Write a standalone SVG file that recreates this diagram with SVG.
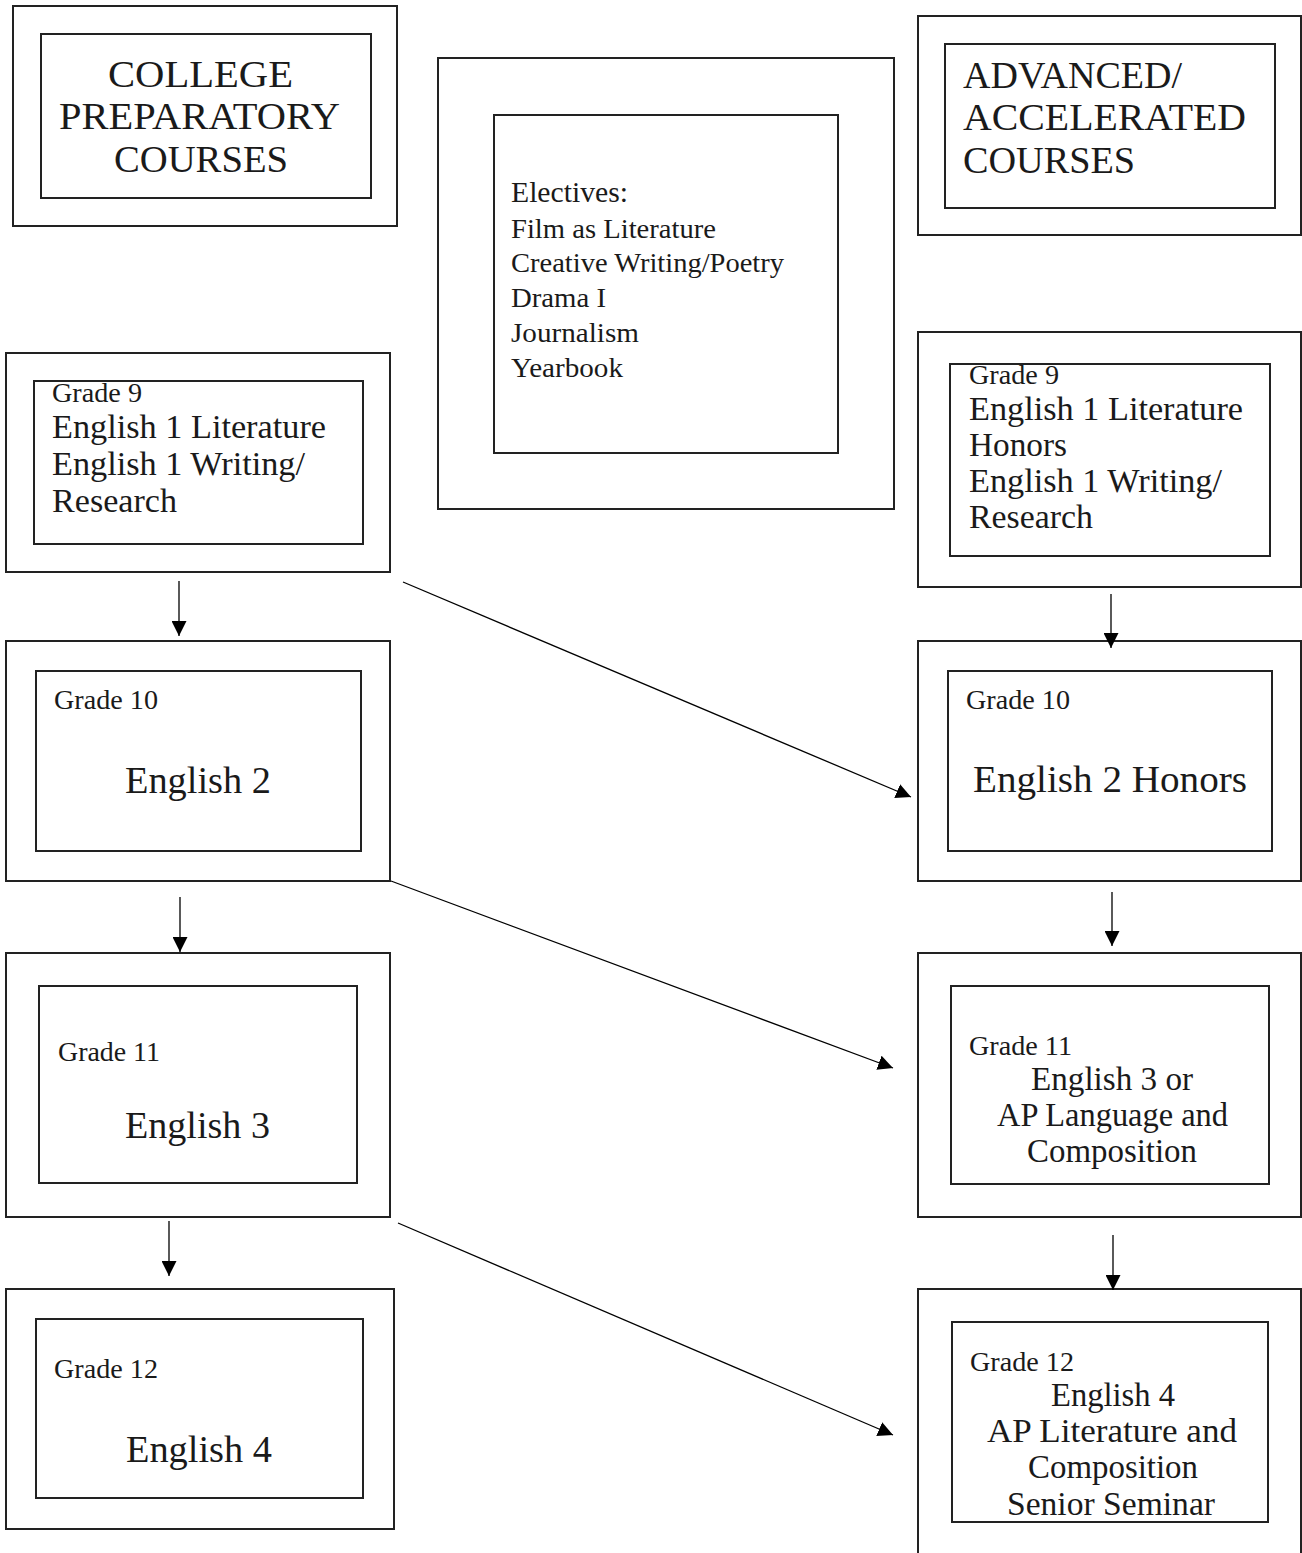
<svg xmlns="http://www.w3.org/2000/svg" width="1302" height="1553" viewBox="0 0 1302 1553">
<defs>
<marker id="ah" markerUnits="userSpaceOnUse" markerWidth="15" markerHeight="15" refX="15" refY="7.5" orient="auto">
<path d="M0,0 L15,7.5 L0,15 z" fill="#000"/>
</marker>
<style>
rect{fill:none;stroke:#222;stroke-width:2}
text{font-family:"Liberation Serif","Times New Roman",serif;fill:#1a1a1a}
.h{font-size:38px}
.el{font-size:29px}
.it{font-size:27px}
.g{font-size:28px}
.m{font-size:33px}
.b{font-size:38px}
.c line{stroke:#000;stroke-width:1.3;marker-end:url(#ah)}
</style>
</defs>
<rect x="0" y="0" width="1302" height="1553" style="fill:#fff;stroke:none"/>
<g id="header-college">
<rect x="13" y="6" width="384" height="220"/>
<rect x="41" y="34" width="330" height="164"/>
<text class="h" x="108" y="87" textLength="185" lengthAdjust="spacingAndGlyphs">COLLEGE</text>
<text class="h" x="59" y="129" textLength="281" lengthAdjust="spacingAndGlyphs">PREPARATORY</text>
<text class="h" x="114" y="172" textLength="174" lengthAdjust="spacingAndGlyphs">COURSES</text>
</g>
<g id="header-advanced">
<rect x="918" y="16" width="383" height="219"/>
<rect x="945" y="44" width="330" height="164"/>
<text class="h" x="963" y="88" textLength="219" lengthAdjust="spacingAndGlyphs">ADVANCED/</text>
<text class="h" x="963" y="130" textLength="283" lengthAdjust="spacingAndGlyphs">ACCELERATED</text>
<text class="h" x="963" y="173" textLength="172" lengthAdjust="spacingAndGlyphs">COURSES</text>
</g>
<g id="electives">
<rect x="438" y="58" width="456" height="451"/>
<rect x="494" y="115" width="344" height="338"/>
<text class="el" x="511" y="202" textLength="117" lengthAdjust="spacingAndGlyphs">Electives:</text>
<text class="it" x="511" y="238" textLength="205" lengthAdjust="spacingAndGlyphs">Film as Literature</text>
<text class="it" x="511" y="272" textLength="273" lengthAdjust="spacingAndGlyphs">Creative Writing/Poetry</text>
<text class="it" x="511" y="307" textLength="95" lengthAdjust="spacingAndGlyphs">Drama I</text>
<text class="it" x="511" y="342" textLength="128" lengthAdjust="spacingAndGlyphs">Journalism</text>
<text class="it" x="511" y="377" textLength="112" lengthAdjust="spacingAndGlyphs">Yearbook</text>
</g>
<g id="cp-grade9">
<rect x="6" y="353" width="384" height="219"/>
<rect x="34" y="381" width="329" height="163"/>
<text class="g" x="52" y="402" textLength="90" lengthAdjust="spacingAndGlyphs">Grade 9</text>
<text class="m" x="52" y="438" textLength="274" lengthAdjust="spacingAndGlyphs">English 1 Literature</text>
<text class="m" x="52" y="475" textLength="253" lengthAdjust="spacingAndGlyphs">English 1 Writing/</text>
<text class="m" x="52" y="512" textLength="125" lengthAdjust="spacingAndGlyphs">Research</text>
</g>
<g id="adv-grade9">
<rect x="918" y="332" width="383" height="255"/>
<rect x="950" y="364" width="320" height="192"/>
<text class="g" x="969" y="384" textLength="90" lengthAdjust="spacingAndGlyphs">Grade 9</text>
<text class="m" x="969" y="420" textLength="274" lengthAdjust="spacingAndGlyphs">English 1 Literature</text>
<text class="m" x="969" y="456" textLength="98" lengthAdjust="spacingAndGlyphs">Honors</text>
<text class="m" x="969" y="492" textLength="253" lengthAdjust="spacingAndGlyphs">English 1 Writing/</text>
<text class="m" x="969" y="528" textLength="124" lengthAdjust="spacingAndGlyphs">Research</text>
</g>
<g id="cp-grade10">
<rect x="6" y="641" width="384" height="240"/>
<rect x="36" y="671" width="325" height="180"/>
<text class="g" x="54" y="709" textLength="104" lengthAdjust="spacingAndGlyphs">Grade 10</text>
<text class="b" x="125" y="793" textLength="146" lengthAdjust="spacingAndGlyphs">English 2</text>
</g>
<g id="adv-grade10">
<rect x="918" y="641" width="383" height="240"/>
<rect x="948" y="671" width="324" height="180"/>
<text class="g" x="966" y="709" textLength="104" lengthAdjust="spacingAndGlyphs">Grade 10</text>
<text class="b" x="973" y="792" textLength="274" lengthAdjust="spacingAndGlyphs">English 2 Honors</text>
</g>
<g id="cp-grade11">
<rect x="6" y="953" width="384" height="264"/>
<rect x="39" y="986" width="318" height="197"/>
<text class="g" x="58" y="1061" textLength="102" lengthAdjust="spacingAndGlyphs">Grade 11</text>
<text class="b" x="125" y="1138" textLength="145" lengthAdjust="spacingAndGlyphs">English 3</text>
</g>
<g id="adv-grade11">
<rect x="918" y="953" width="383" height="264"/>
<rect x="951" y="986" width="318" height="198"/>
<text class="g" x="969" y="1055" textLength="103" lengthAdjust="spacingAndGlyphs">Grade 11</text>
<text class="m" x="1031" y="1090" textLength="162" lengthAdjust="spacingAndGlyphs">English 3 or</text>
<text class="m" x="997" y="1126" textLength="231" lengthAdjust="spacingAndGlyphs">AP Language and</text>
<text class="m" x="1027" y="1162" textLength="170" lengthAdjust="spacingAndGlyphs">Composition</text>
</g>
<g id="cp-grade12">
<rect x="6" y="1289" width="388" height="240"/>
<rect x="36" y="1319" width="327" height="179"/>
<text class="g" x="54" y="1378" textLength="104" lengthAdjust="spacingAndGlyphs">Grade 12</text>
<text class="b" x="126" y="1462" textLength="146" lengthAdjust="spacingAndGlyphs">English 4</text>
</g>
<g id="adv-grade12">
<rect x="918" y="1289" width="383" height="300"/>
<rect x="952" y="1322" width="316" height="200"/>
<text class="g" x="970" y="1371" textLength="104" lengthAdjust="spacingAndGlyphs">Grade 12</text>
<text class="m" x="1051" y="1406" textLength="124" lengthAdjust="spacingAndGlyphs">English 4</text>
<text class="m" x="987" y="1442" textLength="250" lengthAdjust="spacingAndGlyphs">AP Literature and</text>
<text class="m" x="1028" y="1478" textLength="170" lengthAdjust="spacingAndGlyphs">Composition</text>
<text class="m" x="1007" y="1515" textLength="208" lengthAdjust="spacingAndGlyphs">Senior Seminar</text>
</g>
<g id="connectors" class="c">
<line x1="179" y1="581" x2="179" y2="636"/>
<line x1="180" y1="897" x2="180" y2="952"/>
<line x1="169" y1="1221" x2="169" y2="1276"/>
<line x1="1111" y1="594" x2="1111" y2="648"/>
<line x1="1112" y1="892" x2="1112" y2="946"/>
<line x1="1113" y1="1235" x2="1113" y2="1290"/>
<line x1="403" y1="582" x2="911" y2="797"/>
<line x1="391" y1="881" x2="893" y2="1068"/>
<line x1="398" y1="1223" x2="893" y2="1435"/>
</g>
</svg>
